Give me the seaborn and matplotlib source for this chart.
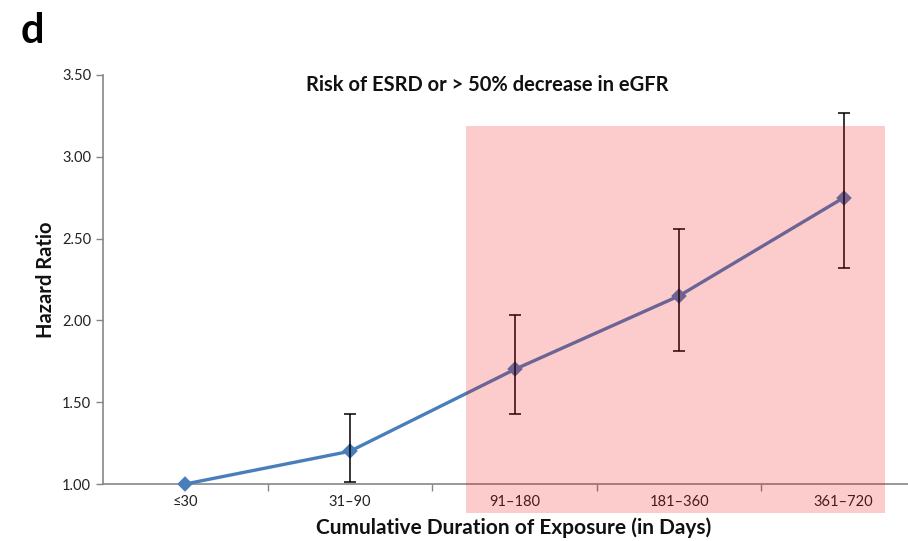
import matplotlib
matplotlib.use("Agg")
import matplotlib.pyplot as plt
import seaborn as sns
import numpy as np
import pandas as pd
from matplotlib.patches import Rectangle

categories = ["≤30", "31–90", "91–180", "181–360", "361–720"]
hazard_ratio = [1.00, 1.20, 1.70, 2.15, 2.75]
ci_low = [np.nan, 1.01, 1.43, 1.81, 2.32]
ci_high = [np.nan, 1.43, 2.03, 2.56, 3.27]
y_ticks = [1.00, 1.50, 2.00, 2.50, 3.00, 3.50]

title = "Risk of ESRD or > 50% decrease in eGFR"
xlabel = "Cumulative Duration of Exposure (in Days)"
ylabel = "Hazard Ratio"
panel = "d"

sns.set_style("white")
plt.rcParams["font.family"] = ["Lato", "DejaVu Sans"]

df = pd.DataFrame({"cat": categories, "hr": hazard_ratio})

fig = plt.figure(figsize=(9.08, 5.41), dpi=100)
ax = fig.add_axes([103/908, 57/541, 823/908, 409/541])

sns.pointplot(data=df, x="cat", y="hr", order=categories, color="#4a7ebb",
              markers="D", markersize=6, linewidth=2.4, ax=ax, zorder=3)
for ln in ax.lines:
    ln.set_clip_on(False)
for c in ax.collections:
    c.set_clip_on(False)

xpos = np.arange(len(categories))
hr = np.array(hazard_ratio)
lo = np.array(ci_low)
hi = np.array(ci_high)
ax.errorbar(xpos, hr, yerr=[hr - lo, hi - hr], fmt="none", ecolor="black",
            elinewidth=1.1, capsize=4, capthick=1.1, zorder=4)

ax.set_xlim(-0.5, len(categories) - 0.5)
ax.set_ylim(y_ticks[0], y_ticks[-1])
ax.set_yticks(y_ticks)
ax.set_yticklabels([f"{v:.2f}" for v in y_ticks])

# tick marks between categories
ax.set_xticks(xpos)
ax.set_xticks(np.arange(0.5, len(categories) - 1, 1.0), minor=True)
ax.tick_params(axis="x", which="major", length=0, labelsize=10.5,
               labelcolor="#222222", pad=8)
ax.tick_params(axis="x", which="minor", length=5, width=1, color="#868686",
               direction="out", bottom=True)
ax.tick_params(axis="y", which="major", length=5, width=1, color="#868686",
               direction="out", left=True, labelsize=10.5, labelcolor="#222222")

for s in ["top", "right"]:
    ax.spines[s].set_visible(False)
for s in ["left", "bottom"]:
    ax.spines[s].set_color("#868686")
    ax.spines[s].set_linewidth(1.2)

ax.set_xlabel(xlabel, fontsize=15, fontweight="bold", color="#111111")
ax.set_ylabel(ylabel, fontsize=14.5, fontweight="bold", color="#111111")
ax.xaxis.set_label_coords((514 - 103) / 823, -(517 - 484) / 409)
ax.yaxis.set_label_coords(-(103 - 56) / 823, (484 - 280) / 409)

ax.text((487 - 103) / 823, (484 - 85) / 409, title, transform=ax.transAxes,
        ha="center", va="center", fontsize=14.5, fontweight="bold", color="#111111")

# highlighted region
rect = Rectangle((1.706, 0.823), 4.249 - 1.706, 3.19 - 0.823,
                 facecolor=(0.94, 0.0, 0.0, 0.2), edgecolor="none",
                 clip_on=False, zorder=6)
ax.add_patch(rect)

fig.text(21 / 908, 1 - 31 / 541, panel, fontsize=30, fontweight="bold",
         ha="left", va="center", color="black")

fig.savefig("out.png", dpi=100)
